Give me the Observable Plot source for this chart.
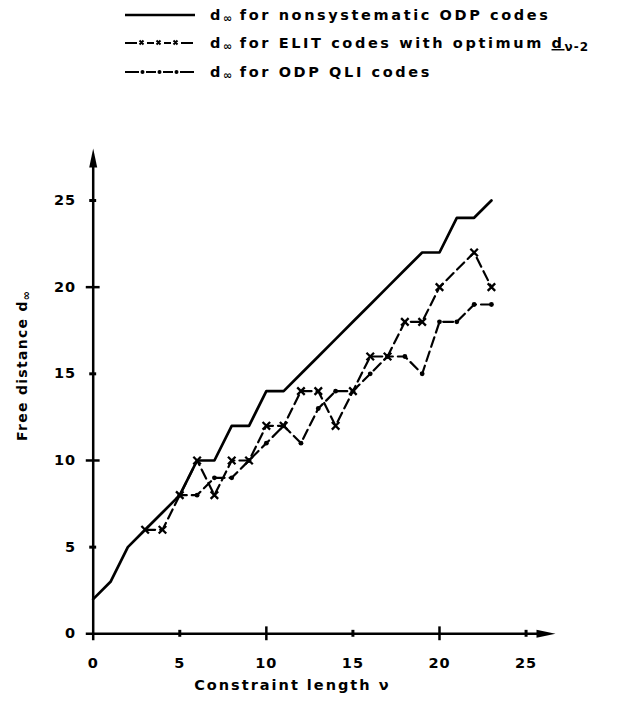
<!DOCTYPE html>
<html>
<head>
<meta charset="utf-8">
<script src="https://cdn.jsdelivr.net/npm/d3@7"></script>
<script src="https://cdn.jsdelivr.net/npm/@observablehq/plot@0.6"></script>
<style>
  body { margin: 0; background: #fff; width: 620px; height: 706px; overflow: hidden; }
  #legend text { font-family: "DejaVu Sans", sans-serif; font-weight: bold; font-size: 14.5px; letter-spacing: 2.6px; fill: #000; }
  #chart svg { display: block; }
</style>
</head>
<body>
<svg id="legend" width="620" height="100" style="display:block">
  <line x1="125" y1="15" x2="195" y2="15" stroke="#000" stroke-width="2.5"/>
  <g stroke="#000" stroke-width="2">
    <line x1="125" y1="43" x2="137" y2="43"/>
    <line x1="147" y1="43" x2="154" y2="43"/>
    <line x1="164" y1="43" x2="171" y2="43"/>
    <line x1="181" y1="43" x2="193" y2="43"/>
    <path d="M139.5,40.5l4,4M143.5,40.5l-4,4M156.5,40.5l4,4M160.5,40.5l-4,4M173.5,40.5l4,4M177.5,40.5l-4,4"/>
  </g>
  <g stroke="#000" stroke-width="2">
    <line x1="125" y1="72" x2="139" y2="72"/>
    <line x1="146" y1="72" x2="156" y2="72"/>
    <line x1="163" y1="72" x2="173" y2="72"/>
    <line x1="180" y1="72" x2="194" y2="72"/>
  </g>
  <g fill="#000"><circle cx="142.5" cy="72" r="2"/><circle cx="159.5" cy="72" r="2"/><circle cx="176.5" cy="72" r="2"/></g>
  <text x="210" y="20">d<tspan font-size="11" dy="2" letter-spacing="0">∞</tspan><tspan dy="-2"> for nonsystematic ODP codes</tspan></text>
  <text x="210" y="48">d<tspan font-size="11" dy="2" letter-spacing="0">∞</tspan><tspan dy="-2"> for ELIT codes with optimum </tspan><tspan text-decoration="underline">d</tspan><tspan font-size="12" dy="3" letter-spacing="1">ν-2</tspan></text>
  <text x="210" y="77">d<tspan font-size="11" dy="2" letter-spacing="0">∞</tspan><tspan dy="-2"> for ODP QLI codes</tspan></text>
</svg>
<div id="chart"></div>
<script>
// Constraint length ν (x) and free distance d∞ (y) for each series
const odpNu  = [0,1,2,3,4,5,6,7,8,9,10,11,12,13,14,15,16,17,18,19,20,21,22,23];
const odpD   = [2,3,5,6,7,8,10,10,12,12,14,14,15,16,17,18,19,20,21,22,22,24,24,25];
const elitNu = [3,4,5,6,7,8,9,10,11,12,13,14,15,16,17,18,19,20,22,23];
const elitD  = [6,6,8,10,8,10,10,12,12,14,14,12,14,16,16,18,18,20,22,20];
const qliNu  = [5,6,7,8,9,10,11,12,13,14,15,16,17,18,19,20,21,22,23];
const qliD   = [8,8,9,9,10,11,12,11,13,14,14,15,16,16,15,18,18,19,19];

const xTicks = [0,5,10,15,20,25];
const yTicks = [0,5,10,15,20,25];
const xLongTicks = [10,20];
const xShortTicks = [5,15,25];
const yLongTicks = [10,20];
const yShortTicks = [5,15,25];

const xLabel = "Constraint length ν";
const yLabel = "Free distance d";

const odp  = odpNu.map((v,i) => ({nu: v, d: odpD[i]}));
const elit = elitNu.map((v,i) => ({nu: v, d: elitD[i]}));
const qli  = qliNu.map((v,i) => ({nu: v, d: qliD[i]}));

const arrowRight = { draw(ctx) { ctx.moveTo(0,0); ctx.lineTo(-19,-4); ctx.lineTo(-19,4); ctx.closePath(); } };
const arrowUp    = { draw(ctx) { ctx.moveTo(0,0); ctx.lineTo(-4,19); ctx.lineTo(4,19); ctx.closePath(); } };

const font = "DejaVu Sans, sans-serif";

const plot = Plot.plot({
  width: 620,
  height: 606,
  marginLeft: 92.7,
  marginRight: 65,
  marginTop: 48,
  marginBottom: 72.7,
  x: {domain: [0, 26.7]},
  y: {domain: [0, 28]},
  style: {fontFamily: font, fontWeight: "bold", fontSize: "14px", color: "#000", background: "#fff"},
  marks: [
    Plot.axisX(xTicks, {tickSize: 0, tickPadding: 24, label: null, fontSize: 14.5, fontWeight: "bold"}),
    Plot.axisY(yTicks, {tickSize: 0, tickPadding: 17, label: null, fontSize: 14.5, fontWeight: "bold"}),
    // axes lines
    Plot.ruleY([0], {x1: -0.4, x2: 26, stroke: "#000", strokeWidth: 2.5}),
    Plot.ruleX([0], {y1: -0.4, y2: 27.2, stroke: "#000", strokeWidth: 2.5}),
    Plot.dot([0], {x: 26.7, y: 0, symbol: arrowRight, fill: "#000", stroke: "none"}),
    Plot.dot([0], {x: 0, y: 28, symbol: arrowUp, fill: "#000", stroke: "none"}),
    // tick marks crossing the axes
    Plot.ruleX(xLongTicks, {x: d => d, y1: -0.4, y2: 0.4, stroke: "#000", strokeWidth: 2.5}),
    Plot.ruleX(xShortTicks, {x: d => d, y1: -0.2, y2: 0.2, stroke: "#000", strokeWidth: 3}),
    Plot.ruleY(yLongTicks, {y: d => d, x1: -0.4, x2: 0.4, stroke: "#000", strokeWidth: 2.5}),
    Plot.ruleY(yShortTicks, {y: d => d, x1: -0.2, x2: 0.2, stroke: "#000", strokeWidth: 3}),
    // series
    Plot.line(odp, {x: "nu", y: "d", stroke: "#000", strokeWidth: 2.7}),
    Plot.line(elit, {x: "nu", y: "d", stroke: "#000", strokeWidth: 2.2, strokeDasharray: "10,5"}),
    Plot.line(qli, {x: "nu", y: "d", stroke: "#000", strokeWidth: 2.2, strokeDasharray: "10,5", strokeDashoffset: 3}),
    Plot.dot(elit, {x: "nu", y: "d", symbol: "times", r: 3.5, stroke: "#000", strokeWidth: 2.3}),
    Plot.dot(qli, {x: "nu", y: "d", r: 2.4, fill: "#000", stroke: "none"}),
    Plot.text([xLabel], {frameAnchor: "bottom", dx: -32, dy: 56, fontSize: 14.5, fontWeight: "bold", fontFamily: font, fill: "#000"})
  ]
});

d3.select(plot).selectAll("text").style("letter-spacing", "1px");
d3.select(plot).selectAll("[aria-label='text'] text").style("letter-spacing", "2px");

// y label with subscript ∞
const yl = d3.select(plot).append("text")
  .attr("transform", "translate(27,266) rotate(-90)")
  .attr("text-anchor", "middle")
  .style("font-family", font).style("font-weight", "bold").style("font-size", "14px")
  .style("letter-spacing", "1.3px").attr("fill", "#000");
yl.append("tspan").text(yLabel);
yl.append("tspan").attr("font-size", "11px").attr("dy", 3).style("letter-spacing", "0").text("∞");

document.getElementById("chart").appendChild(plot);
</script>
</body>
</html>
